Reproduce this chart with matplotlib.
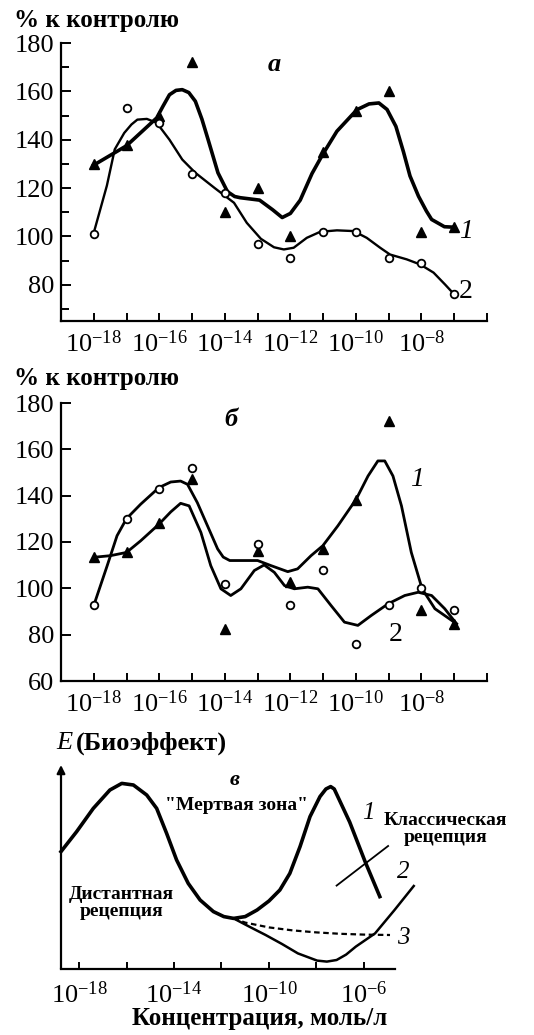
import matplotlib
matplotlib.use("Agg")
import matplotlib.pyplot as plt
from matplotlib.ticker import FixedLocator, NullLocator, FixedFormatter

plt.rcParams["font.family"] = ["Liberation Serif", "DejaVu Serif"]
plt.rcParams["mathtext.fontset"] = "custom"
plt.rcParams["mathtext.rm"] = "Liberation Serif"
plt.rcParams["mathtext.it"] = "Liberation Serif:italic"
plt.rcParams["mathtext.bf"] = "Liberation Serif:bold"

# ---------- данные: панель а ----------
dose_exp = [-18, -17, -16, -15, -14, -13, -12, -11, -10, -9, -8, -7]
a_tri = [130, 138, 150, 172, 110, 120, 100, 135, 152, 160, 102, 104]
a_circ = [101, 153, 147, 126, 118, 97, 91, 102, 102, 91, 89, 76]

a_line1_exp = [-18, -17, -16.08, -15.89, -15.69, -15.49, -15.3, -15.1, -14.9, -14.7,
               -14.51, -14.21, -13.92, -13.7, -13.53, -12.94, -12.54, -12.25, -12.0, -11.7,
               -11.34, -11.01, -10.58, -9.97, -9.6, -9.3, -9.05, -8.78, -8.55, -8.35,
               -8.09, -7.85, -7.69, -7.3, -7.0]
a_line1_val = [129.5, 137.5, 149, 153.8, 158.6, 160.4, 160.7, 159.5, 155.9, 148.5,
               140, 126.3, 118.5, 116.5, 116, 115, 111, 107.8, 109.5, 115,
               126, 134, 143.5, 152.4, 154.8, 155.2, 152.5, 145.5, 135, 125,
               116.6, 110.5, 107, 104, 103.8]

a_line2_exp = [-18, -17.6, -17.36, -17.07, -16.85, -16.67, -16.38, -16.08, -15.69, -15.3, -14.9,
               -14.31, -13.72, -13.33, -12.9, -12.5, -12.2, -11.9, -11.5, -11.09, -10.58,
               -10.07, -9.67, -9.26, -8.96, -8.45, -8.04, -7.63, -7.28, -7.0]
a_line2_val = [101.5, 121, 136, 142.8, 146.3, 148.3, 148.6, 147, 140, 131.8, 126.3,
               120, 113.9, 105.6, 99, 95.5, 94.6, 95.3, 99.4, 101.9, 102.5,
               102.2, 99.4, 95.3, 92.5, 90.5, 88.4, 85, 80.1, 76]

# ---------- данные: панель б ----------
b_circ = [92.6, 130, 143, 152, 102, 119, 93, 108, 76, 93, 100, 90.5]
b_tri = [113.4, 115.5, 128, 147, 82.3, 116, 102.6, 117, 138, 172.4, 90.5, 84.7]

b_line1_exp = [-18, -17.59, -17.29, -17, -16.57, -16.01, -15.65, -15.35, -15.14, -14.84,
               -14.53, -14.22, -14.05, -13.85, -13.51, -13.0, -12.59, -12.08, -11.78, -11.37,
               -11.01, -10.55, -9.99, -9.63, -9.33, -9.12, -8.87, -8.61, -8.31, -7.98,
               -7.59, -6.93]
b_line1_val = [92.6, 109.8, 122.7, 130.1, 136.3, 143.5, 145.9, 146.3, 144.9, 137,
               127, 117, 113.5, 112, 112, 112, 109.8, 107.2, 108.4, 114.1,
               118.4, 127, 138.5, 148.5, 155, 155, 148.5, 135.6, 115.5, 99.8,
               91.2, 84.7]

b_line2_exp = [-18, -17.49, -17, -16.57, -16.01, -15.65, -15.35, -15.09, -14.73, -14.43,
               -14.12, -13.82, -13.51, -13.1, -12.8, -12.49, -12.18, -11.88, -11.47,
               -11.16, -10.76, -10.35, -9.94, -9.53, -9.02, -8.51, -8.1, -7.69, -7.29,
               -6.93]
b_line2_val = [113.4, 114.1, 115.5, 120.5, 127.7, 133, 136.7, 135.6, 124.1, 109.8,
               99.8, 96.9, 99.8, 107.7, 110.1, 106.9, 101.2, 99.8, 100.5,
               99.8, 92.6, 85.4, 84, 88.3, 93.3, 96.9, 98.3, 96.9, 91.2,
               84.7]

# ---------- данные: панель в (условные единицы) ----------
c_line1_exp = [-18.76, -18.1, -17.4, -16.7, -16.2, -15.71, -15.15, -14.73, -14.31, -13.89,
               -13.4, -12.9, -12.34, -11.9, -11.49, -11.0, -10.5, -10.0, -9.54, -9.12,
               -8.69, -8.27, -7.85, -7.6, -7.4, -7.25, -6.6, -5.96, -5.33]
c_line1_val = [5.87, 6.87, 8.03, 8.95, 9.28, 9.2, 8.7, 8.03, 6.78, 5.45,
               4.28, 3.45, 2.87, 2.62, 2.53, 2.62, 2.95, 3.4, 3.95, 4.78,
               6.12, 7.62, 8.62, 9.0, 9.12, 9.0, 7.35, 5.4, 3.62]

c_line2_exp = [-11.49, -10.8, -10.14, -9.45, -8.78, -7.97, -7.56, -7.15, -6.75, -6.34,
               -5.53, -4.71, -3.9]
c_line2_val = [2.53, 2.1, 1.7, 1.25, 0.78, 0.42, 0.37, 0.45, 0.72, 1.12,
               1.78, 2.95, 4.15]

c_line3_exp = [-11.49, -11.0, -10.0, -9.0, -8.0, -7.0, -6.0, -4.9]
c_line3_val = [2.53, 2.32, 2.08, 1.93, 1.83, 1.76, 1.72, 1.7]

ab_ticks = list(range(-18, -5))
ab_labels = [r"$10^{%d}$" % e if e % 2 == 0 and e <= -8 else "" for e in ab_ticks]
c_ticks = list(range(-18, -5, 2))
c_labels = [r"$10^{%d}$" % e if e in (-18, -14, -10, -6) else "" for e in c_ticks]


def conc(exps):
    return [10.0 ** e for e in exps]


def style_axes(ax, ticks, labels):
    ax.set_xscale("log")
    for s in ("top", "right"):
        ax.spines[s].set_visible(False)
    for s in ("left", "bottom"):
        ax.spines[s].set_linewidth(1.6)
    ax.xaxis.set_major_locator(FixedLocator(conc(ticks)))
    ax.xaxis.set_major_formatter(FixedFormatter(labels))
    ax.xaxis.set_minor_locator(NullLocator())
    ax.tick_params(axis="x", direction="in", length=6, width=1.4, labelsize=19, pad=7)
    ax.tick_params(axis="y", direction="in", length=7, width=1.4, labelsize=19, pad=5)
    ax.tick_params(which="minor", direction="in", length=6, width=1.4)


fig = plt.figure(figsize=(5.34, 10.35), dpi=100)

# ---- а ----
ax1 = fig.add_axes([61 / 534, 1 - 321 / 1035, 426 / 534, 278 / 1035])
style_axes(ax1, ab_ticks, ab_labels)
ax1.plot(conc(a_line1_exp), a_line1_val, color="black", lw=2.6, solid_joinstyle="round")
ax1.plot(conc(a_line2_exp), a_line2_val, color="black", lw=1.7, solid_joinstyle="round")
ax1.plot(conc(dose_exp), a_tri, "^", color="black", ms=6.5)
ax1.plot(conc(dose_exp), a_circ, "o", mfc="white", mec="black", mew=1.3, ms=5.5)
ax1.set_xlim(1e-19, 1e-6)
ax1.set_ylim(65, 180)
ax1.set_yticks([80, 100, 120, 140, 160, 180])
ax1.set_yticks([70, 90, 110, 130, 150, 170], minor=True)
ax1.text(10 ** -12.5, 171, "а", fontsize=19, style="italic", weight="bold", ha="center", va="center")
ax1.text(10 ** -6.65, 102, "1", fontsize=20, style="italic", ha="center", va="center")
ax1.text(10 ** -6.65, 77, "2", fontsize=20, ha="center", va="center")
fig.text(14 / 534, 1 - 20 / 1035, "% к контролю", fontsize=18, weight="bold", ha="left", va="center")

# ---- б ----
ax2 = fig.add_axes([61 / 534, 1 - 681 / 1035, 426 / 534, 278 / 1035])
style_axes(ax2, ab_ticks, ab_labels)
ax2.plot(conc(b_line1_exp), b_line1_val, color="black", lw=2.0, solid_joinstyle="round")
ax2.plot(conc(b_line2_exp), b_line2_val, color="black", lw=2.0, solid_joinstyle="round")
ax2.plot(conc(dose_exp), b_tri, "^", color="black", ms=6.5)
ax2.plot(conc(dose_exp), b_circ, "o", mfc="white", mec="black", mew=1.3, ms=5.5)
ax2.set_xlim(1e-19, 1e-6)
ax2.set_ylim(60, 180)
ax2.set_yticks([60, 80, 100, 120, 140, 160, 180])
ax2.text(10 ** -13.8, 173, "б", fontsize=19, style="italic", weight="bold", ha="center", va="center")
ax2.text(10 ** -8.15, 147, "1", fontsize=20, style="italic", ha="center", va="center")
ax2.text(10 ** -8.8, 80, "2", fontsize=20, ha="center", va="center")
fig.text(14 / 534, 1 - 378 / 1035, "% к контролю", fontsize=18, weight="bold", ha="left", va="center")

# ---- в ----
ax3 = fig.add_axes([61 / 534, 1 - 969 / 1035, 334 / 534, 202 / 1035])
style_axes(ax3, c_ticks, c_labels)
ax3.spines["left"].set_visible(False)
ax3.tick_params(axis="y", left=False, labelleft=False)
ax3.tick_params(axis="x", length=5, pad=9)
ax3.set_xlim(10 ** -18.76, 10 ** -4.69)
ax3.set_ylim(0, 10.1)
ax3.annotate("", xy=(10 ** -18.76, 10.2), xytext=(10 ** -18.76, 0),
             arrowprops=dict(arrowstyle="-|>", color="black", lw=1.6, mutation_scale=12,
                             shrinkA=0, shrinkB=0), annotation_clip=False)
ax3.plot(conc(c_line1_exp), c_line1_val, color="black", lw=2.6, solid_joinstyle="round", clip_on=False)
ax3.plot(conc(c_line2_exp), c_line2_val, color="black", lw=1.8, solid_joinstyle="round", clip_on=False)
ax3.plot(conc(c_line3_exp), c_line3_val, color="black", lw=1.6, ls=(0, (2.5, 1.6)), clip_on=False)
ax3.plot(conc([-7.15, -4.98]), [4.17, 6.15], color="black", lw=1.3, clip_on=False)

ax3.text(10 ** -11.43, 9.45, "в", fontsize=16, style="italic", weight="bold", ha="center", va="center")
ax3.text(10 ** -11.36, 8.2, "\"Мертвая зона\"", fontsize=14, weight="bold", ha="center", va="center")
ax3.text(10 ** -16.2, 3.3, "Дистантная\nрецепция", fontsize=14, weight="bold", ha="center",
         va="center", linespacing=1.0)
ax3.text(10 ** -2.55, 7.0, "Классическая\nрецепция", fontsize=14, weight="bold", ha="center",
         va="center", linespacing=1.0)
ax3.text(10 ** -5.82, 7.78, "1", fontsize=18, style="italic", ha="center", va="center")
ax3.text(10 ** -4.34, 4.87, "2", fontsize=18, style="italic", ha="center", va="center")
ax3.text(10 ** -4.34, 1.53, "3", fontsize=18, style="italic", ha="center", va="center")

fig.text(56 / 534, 1 - 743 / 1035, "E", fontsize=19, style="italic", ha="left", va="center")
fig.text(76 / 534, 1 - 743 / 1035, "(Биоэффект)", fontsize=19, weight="bold", ha="left", va="center")
fig.text(260 / 534, 1 - 1018 / 1035, "Концентрация, моль/л", fontsize=18, weight="bold",
         ha="center", va="center")

fig.savefig("out.png", dpi=100)
